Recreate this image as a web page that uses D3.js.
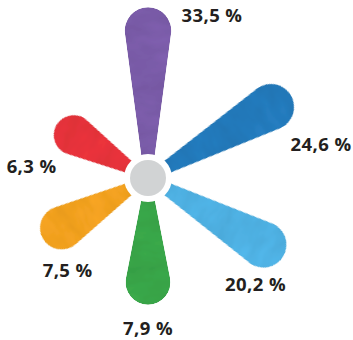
<!DOCTYPE html>
<html><head><meta charset="utf-8">
<script src="https://cdn.jsdelivr.net/npm/d3@7"></script>
<style>html,body{margin:0;padding:0;background:#fff;}svg{display:block;}</style>
</head><body>
<script>
// ---- data ----
const categories = ["A", "B", "C", "D", "E", "F"];
const values = [33.5, 24.6, 20.2, 7.9, 7.5, 6.3];
const labels = ["33,5 %", "24,6 %", "20,2 %", "7,9 %", "7,5 %", "6,3 %"];
const colors = ["#7a5ba8", "#2379ba", "#4eb0e2", "#38a548", "#f2a11f", "#e6323a"];

// ---- layout ----
const W = 353, H = 340, cx = 148, cy = 178;
const svg = d3.select("body").append("svg").attr("width", W).attr("height", H);

const defs = svg.append("defs");
const f = defs.append("filter").attr("id", "wc").attr("x", "-10%").attr("y", "-10%").attr("width", "120%").attr("height", "120%");
f.append("feTurbulence").attr("type", "fractalNoise").attr("baseFrequency", "0.06 0.03").attr("numOctaves", 3).attr("seed", 7).attr("result", "n");
f.append("feColorMatrix").attr("in", "n").attr("type", "matrix")
  .attr("values", "1 0 0 0 0  1 0 0 0 0  1 0 0 0 0  0 0 0 0 1").attr("result", "g");
f.append("feComposite").attr("in", "SourceGraphic").attr("in2", "g").attr("operator", "arithmetic")
  .attr("k1", 0.28).attr("k2", 0.86).attr("k3", 0).attr("k4", 0).attr("result", "t");
f.append("feComposite").attr("in", "t").attr("in2", "SourceGraphic").attr("operator", "in");

const angle = d3.scaleBand().domain(categories).range([0, 360]);
const len = d3.scaleLinear().domain([6, 8, 20, 25, 34]).range([102, 128, 156, 166, 171]);
const capR = d3.scaleLinear().domain([6, 8, 20, 34]).range([19.5, 22.5, 23, 23.3]).clamp(true);

const c1 = 22, r1 = 6.5;
function petal(v) {
  const R = capR(v), c2 = len(v) - R;
  const s = (R - r1) / (c2 - c1), c = Math.sqrt(1 - s * s);
  const p1u = [c1 - r1 * s, r1 * c], p2u = [c2 - R * s, R * c];
  const p2l = [p2u[0], -p2u[1]], p1l = [p1u[0], -p1u[1]];
  return `M${p1u}L${p2u}A${R},${R} 0 1 0 ${p2l}L${p1l}A${r1},${r1} 0 1 0 ${p1u}Z`;
}

const g = svg.append("g").attr("transform", `translate(${cx},${cy})`);
g.selectAll("path.petal").data(categories).join("path")
  .attr("class", "petal")
  .attr("d", (d, i) => petal(values[i]))
  .attr("fill", (d, i) => colors[i])
  .attr("filter", "url(#wc)")
  .attr("transform", d => `rotate(${angle(d) - 90})`);

g.append("circle").attr("r", 24).attr("fill", "#fff");
g.append("circle").attr("r", 18).attr("fill", "#d1d3d4");

// labels placed relative to petal cap centre
const labelOffset = [[64, -16], [50, 37], [-8, 39], [0, 45], [6, 42], [-42, 30]];
g.selectAll("text.lbl").data(categories).join("text")
  .attr("class", "lbl")
  .attr("x", (d, i) => {
    const a = angle(d) * Math.PI / 180, dist = len(values[i]) - capR(values[i]);
    return Math.sin(a) * dist + labelOffset[i][0];
  })
  .attr("y", (d, i) => {
    const a = angle(d) * Math.PI / 180, dist = len(values[i]) - capR(values[i]);
    return -Math.cos(a) * dist + labelOffset[i][1];
  })
  .attr("text-anchor", "middle")
  .attr("dominant-baseline", "central")
  .attr("font-family", "'Open Sans', sans-serif")
  .attr("font-weight", 700)
  .attr("font-size", 18.5)
  .attr("letter-spacing", 0.4)
  .attr("fill", "#231f20")
  .text((d, i) => labels[i]);
</script>
</body></html>
